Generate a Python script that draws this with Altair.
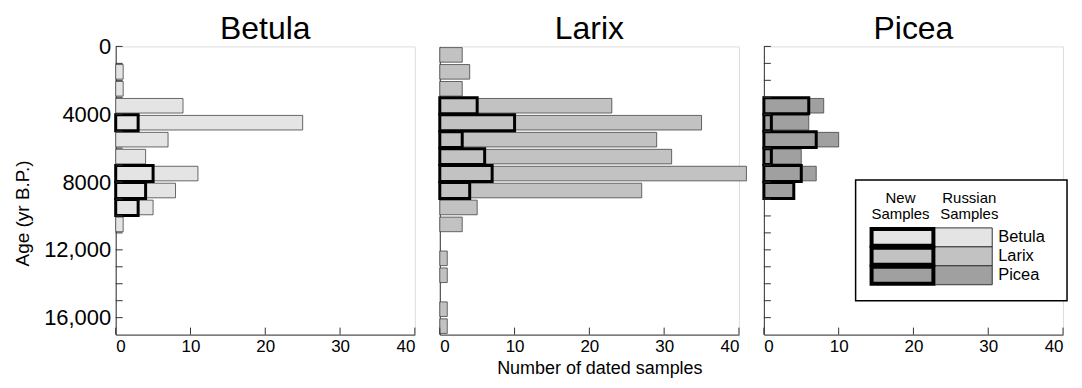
import altair as alt
import pandas as pd

# ---- data ----
ages = list(range(0, 17000, 1000))  # bin starts, yr B.P.
species = ["Betula", "Larix", "Picea"]

betula_russian = [0, 1, 1, 9, 25, 7, 4, 11, 8, 5, 1, 0, 0, 0, 0, 0, 0]
betula_new     = [0, 0, 0, 0, 3, 0, 0, 5, 4, 3, 0, 0, 0, 0, 0, 0, 0]
larix_russian  = [3, 4, 3, 23, 35, 29, 31, 41, 27, 5, 3, 0, 1, 1, 0, 1, 1]
larix_new      = [0, 0, 0, 5, 10, 3, 6, 7, 4, 0, 0, 0, 0, 0, 0, 0, 0]
picea_russian  = [0, 0, 0, 8, 6, 10, 5, 7, 4, 0, 0, 0, 0, 0, 0, 0, 0]
picea_new      = [0, 0, 0, 6, 1, 7, 1, 5, 4, 0, 0, 0, 0, 0, 0, 0, 0]

x_ticks = [0, 10, 20, 30, 40]
y_ticks = list(range(0, 17000, 1000))
y_labels = [0, 4000, 8000, 12000, 16000]

fills = {"Betula": "#e4e4e4", "Larix": "#c2c2c2", "Picea": "#a0a0a0"}
series = {
    "Betula": (betula_russian, betula_new),
    "Larix": (larix_russian, larix_new),
    "Picea": (picea_russian, picea_new),
}

FONT = "Liberation Sans"
W, H = 300, 289
YDOM = [0, 17000]


def yscale():
    return alt.Scale(domain=YDOM, reverse=True, nice=False, zero=False)


def xscale():
    return alt.Scale(domain=[0, 40], nice=False, zero=True)


def panel(name, idx):
    russ, new = series[name]
    df = pd.DataFrame({"age": ages, "russian": russ, "new": new})
    one = pd.DataFrame({"k": [0]})

    if idx == 0:
        yaxis = alt.Axis(
            title="Age (yr B.P.)", values=y_labels, ticks=False, grid=False,
            labelExpr="datum.value >= 10000 ? format(datum.value, ',') : format(datum.value, 'd')",
            labelFontSize=22, labelFont=FONT, labelColor="black", labelPadding=5,
            titleFont=FONT, titleFontSize=19, titleFontWeight="normal", titleColor="black",
            titlePadding=11, titleY=167,
            domainColor="#333", domainWidth=1,
        )
    else:
        yaxis = alt.Axis(title=None, labels=False, ticks=False, grid=False,
                         domainColor="#333", domainWidth=1)

    if idx == 1:
        xaxis = alt.Axis(
            title="Number of dated samples",
            values=x_ticks, ticks=False, grid=False,
            labelFontSize=17, labelFont=FONT, labelColor="black", labelPadding=4,
            titleFont=FONT, titleFontSize=18, titleFontWeight="normal", titleColor="black",
            titleBaseline="alphabetic", titleY=39, titleX=160,
            domainColor="#333", domainWidth=1,
        )
    else:
        xaxis = alt.Axis(
            title=None, values=x_ticks, ticks=False, grid=False,
            labelFontSize=17, labelFont=FONT, labelColor="black", labelPadding=4,
            domainColor="#333", domainWidth=1,
        )

    base = alt.Chart(df)
    russ_bars = base.transform_filter("datum.russian > 0").transform_calculate(
        y1="datum.age + 70", y2="datum.age + 930", zero="0"
    ).mark_rect(fill=fills[name], stroke="#444", strokeWidth=0.8).encode(
        x=alt.X("zero:Q", scale=xscale(), axis=xaxis),
        x2=alt.X2("russian:Q"),
        y=alt.Y("y1:Q", scale=yscale(), axis=yaxis),
        y2=alt.Y2("y2:Q"),
    )

    new_bars = base.transform_filter("datum.new > 0").transform_calculate(
        y1="datum.age + 30", y2="datum.age + 970", zero="0"
    ).mark_rect(fill=fills[name], stroke="black", strokeWidth=3).encode(
        x=alt.X("zero:Q", scale=xscale(), axis=xaxis),
        x2=alt.X2("new:Q"),
        y=alt.Y("y1:Q", scale=yscale(), axis=yaxis),
        y2=alt.Y2("y2:Q"),
    )

    layers = [russ_bars, new_bars]

    # inward x ticks
    layers.append(
        alt.Chart(pd.DataFrame({"t": x_ticks})).mark_rule(color="#333", strokeWidth=1).encode(
            x=alt.X("t:Q", scale=xscale(), axis=xaxis),
            y=alt.value(H), y2=alt.value(H - 7),
        )
    )
    # inward y ticks (not on the Larix panel)
    if idx != 1:
        layers.append(
            alt.Chart(pd.DataFrame({"t": y_ticks})).mark_rule(color="#333", strokeWidth=1).encode(
                y=alt.Y("t:Q", scale=yscale(), axis=yaxis),
                x=alt.value(0), x2=alt.value(7),
            )
        )

    # panel title as text
    layers.append(
        alt.Chart(one).mark_text(text=name, font=FONT, fontSize=32, align="center",
                                 baseline="alphabetic", color="black").encode(
            x=alt.value(W / 2), y=alt.value(-7)
        )
    )

    if idx == 2:
        ROW = 19
        layers.append(
            alt.Chart(one).mark_rect(fill="white", stroke="black", strokeWidth=1.5).encode(
                x=alt.value(92), x2=alt.value(304), y=alt.value(134), y2=alt.value(255)
            )
        )
        for txt, xx, yy in [("New", 137, 157), ("Samples", 137, 173),
                            ("Russian", 206, 157), ("Samples", 206, 173)]:
            layers.append(
                alt.Chart(one).mark_text(text=txt, font=FONT, fontSize=15, align="center",
                                         baseline="alphabetic", color="black").encode(
                    x=alt.value(xx), y=alt.value(yy)
                )
            )
        for i, sp in enumerate(species):
            top = 182 + ROW * i
            layers.append(
                alt.Chart(one).mark_rect(fill=fills[sp], stroke="#333", strokeWidth=1).encode(
                    x=alt.value(171), x2=alt.value(229), y=alt.value(top), y2=alt.value(top + ROW)
                )
            )
        for i, sp in enumerate(species):
            top = 182 + ROW * i
            layers.append(
                alt.Chart(one).mark_rect(fill=fills[sp], stroke="black", strokeWidth=4).encode(
                    x=alt.value(108), x2=alt.value(170), y=alt.value(top + 1), y2=alt.value(top + ROW - 1)
                )
            )
            layers.append(
                alt.Chart(one).mark_text(text=sp, font=FONT, fontSize=16.5, align="left",
                                         baseline="middle", color="black").encode(
                    x=alt.value(235), y=alt.value(top + ROW / 2)
                )
            )

    return alt.layer(*layers).properties(width=W, height=H)


chart = alt.hconcat(
    *[panel(s, i) for i, s in enumerate(species)], spacing=25, bounds="flush"
).properties(
    padding={"left": 5, "right": 5, "top": 4, "bottom": 0}
).configure_view(stroke=None).configure(background="white")

chart.save("out.html", embed_options={"renderer": "svg", "actions": False})
